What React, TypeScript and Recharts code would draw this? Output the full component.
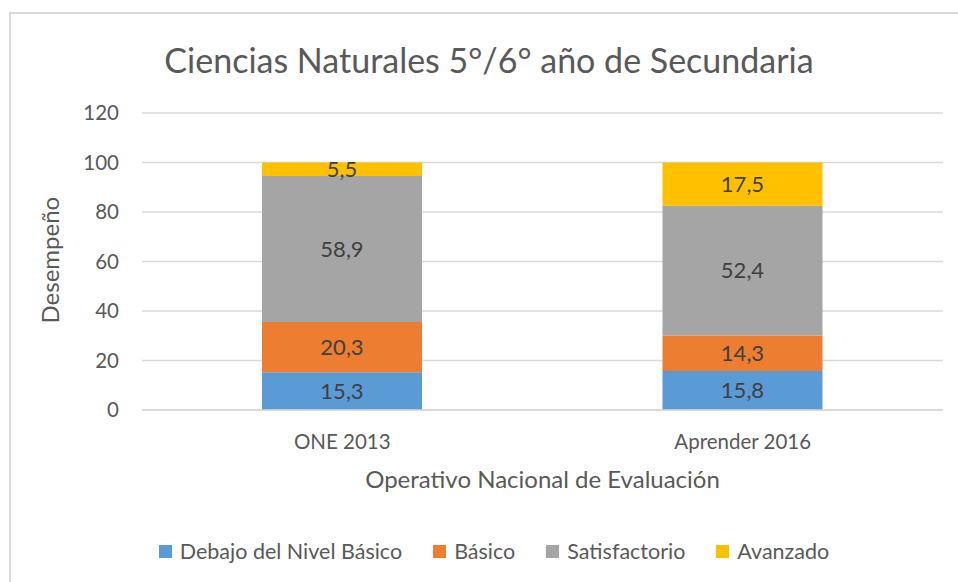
import React from "react";
import {
  BarChart,
  Bar,
  XAxis,
  YAxis,
  CartesianGrid,
  Legend,
  LabelList,
} from "recharts";

// Operativos evaluados
const categories = ["ONE 2013", "Aprender 2016"];

// Porcentaje por nivel de desempeño
const debajoBasico = [15.3, 15.8];
const basico = [20.3, 14.3];
const satisfactorio = [58.9, 52.4];
const avanzado = [5.5, 17.5];

const yTicks = [0, 20, 40, 60, 80, 100, 120];

const series = [
  { key: "debajo", name: "Debajo del Nivel Básico", color: "#5B9BD5" },
  { key: "basico", name: "Básico", color: "#ED7D31" },
  { key: "satisf", name: "Satisfactorio", color: "#A5A5A5" },
  { key: "avanz", name: "Avanzado", color: "#FFC000" },
];

const data = categories.map((cat, i) => ({
  name: cat,
  debajo: debajoBasico[i],
  basico: basico[i],
  satisf: satisfactorio[i],
  avanz: avanzado[i],
}));

const FONT = "Lato, 'Open Sans', sans-serif";
const TEXT = "#595959";

const fmt = (v: number) => String(v).replace(".", ",");

const renderLegend = () => (
  <div
    style={{
      display: "flex",
      justifyContent: "center",
      fontFamily: FONT,
      fontSize: 21.5,
      color: TEXT,
      lineHeight: "24px",
    }}
  >
    {series.map((s, i) => (
      <div
        key={s.key}
        style={{
          display: "flex",
          alignItems: "center",
          marginLeft: i === 0 ? 0 : 31,
        }}
      >
        <span
          style={{
            display: "inline-block",
            width: 13,
            height: 13,
            background: s.color,
            marginRight: 8,
          }}
        />
        <span>{s.name}</span>
      </div>
    ))}
  </div>
);

export default function App() {
  return (
    <div
      style={{
        position: "absolute",
        left: 0,
        top: 0,
        width: 958,
        height: 582,
        background: "#fff",
        overflow: "hidden",
      }}
    >
      <div
        style={{
          position: "absolute",
          left: 9,
          top: 12,
          width: 970,
          height: 600,
          border: "2px solid #D9D9D9",
          boxSizing: "border-box",
        }}
      />
      <div
        style={{
          position: "absolute",
          left: 0,
          top: 39,
          width: 978,
          textAlign: "center",
          fontFamily: FONT,
          fontSize: 34,
          lineHeight: "42px",
          color: TEXT,
        }}
      >
        Ciencias Naturales 5°/6° año de Secundaria
      </div>
      <div style={{ position: "absolute", left: 0, top: 0 }}>
        <BarChart
          width={958}
          height={582}
          data={data}
          margin={{ top: 113, right: 15, left: 0, bottom: 118 }}
          barSize={160}
        >
          <CartesianGrid vertical={false} stroke="#D9D9D9" strokeWidth={1.3} />
          <XAxis
            dataKey="name"
            axisLine={{ stroke: "#D9D9D9", strokeWidth: 1.3 }}
            tickLine={false}
            tickSize={0}
            tickMargin={24}
            height={30}
            tick={{ fill: TEXT, fontSize: 20.5, fontFamily: FONT }}
            label={{
              value: "Operativo Nacional de Evaluación",
              position: "insideBottom",
              offset: -48,
              fill: TEXT,
              fontSize: 24,
              fontFamily: FONT,
            }}
          />
          <YAxis
            domain={[0, 120]}
            ticks={yTicks}
            axisLine={false}
            tickLine={false}
            tickSize={0}
            tickMargin={23}
            width={142}
            tick={{ fill: TEXT, fontSize: 20.5, fontFamily: FONT }}
            label={{
              value: "Desempeño",
              angle: -90,
              position: "insideLeft",
              offset: 50,
              dy: 62,
              fill: TEXT,
              fontSize: 24,
              fontFamily: FONT,
            }}
          />
          <Legend
            verticalAlign="bottom"
            content={renderLegend}
            wrapperStyle={{ left: 0, width: 988, top: 539, bottom: "auto" }}
          />
          {series.map((s) => (
            <Bar
              key={s.key}
              dataKey={s.key}
              name={s.name}
              stackId="a"
              fill={s.color}
              isAnimationActive={false}
            >
              <LabelList
                dataKey={s.key}
                position="center"
                formatter={(v: number) => fmt(v)}
                fill="#404040"
                fontSize={22}
                fontFamily={FONT}
              />
            </Bar>
          ))}
        </BarChart>
      </div>
    </div>
  );
}
